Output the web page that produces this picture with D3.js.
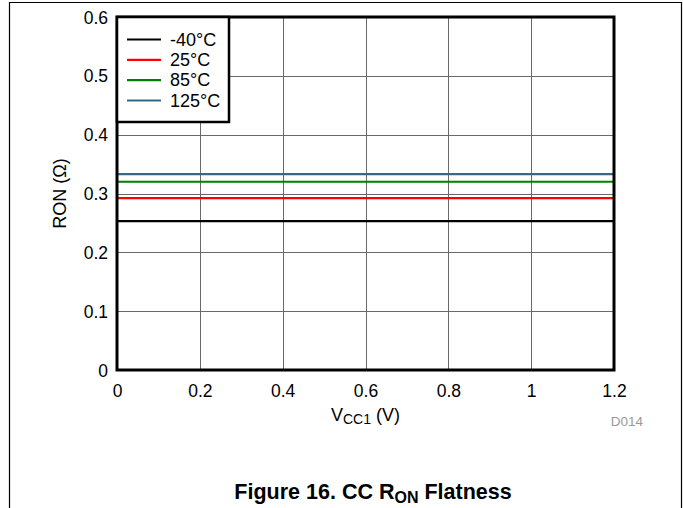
<!DOCTYPE html>
<html>
<head>
<meta charset="utf-8" />
<title>CC RON Flatness</title>
<style>
html, body {
  margin: 0;
  padding: 0;
  background: #fff;
}
svg text {
  font-family: "Liberation Sans", Arial, sans-serif;
}
</style>
</head>
<body>
<script src="https://d3js.org/d3.v7.min.js"></script>
<script>

// ---------------------------------------------------------
// Data

const vcc = [0, 0.2, 0.4, 0.6, 0.8, 1.0, 1.2]
const ronM40 = [0.253, 0.253, 0.253, 0.253, 0.253, 0.253, 0.253]
const ron25 = [0.292, 0.292, 0.292, 0.292, 0.292, 0.292, 0.292]
const ron85 = [0.320, 0.320, 0.320, 0.320, 0.320, 0.320, 0.320]
const ron125 = [0.333, 0.333, 0.333, 0.333, 0.333, 0.333, 0.333]
const seriesNames = ['-40°C', '25°C', '85°C', '125°C']
const seriesColors = ['#000000', '#ff0000', '#008000', '#3a6783']
const xTicks = [0, 0.2, 0.4, 0.6, 0.8, 1, 1.2]
const yTicks = [0, 0.1, 0.2, 0.3, 0.4, 0.5, 0.6]

const series = [ronM40, ron25, ron85, ron125]

// ---------------------------------------------------------
// Layout

const W = 683
const H = 508
const margin = { left: 117, top: 17, right: 683 - 614, bottom: 508 - 370 }
const w = W - margin.left - margin.right
const h = H - margin.top - margin.bottom

const svg = d3.select('body').append('svg')
  .attr('width', W)
  .attr('height', H)

// page frame (top, left, right)
svg.append('path')
  .attr('d', `M9.5,${H} V2.5 H681.5 V${H}`)
  .attr('fill', 'none')
  .attr('stroke', '#000')
  .attr('stroke-width', 1.2)

const g = svg.append('g')
  .attr('transform', `translate(${margin.left},${margin.top})`)

const x = d3.scaleLinear().domain([0, 1.2]).range([0, w])
const y = d3.scaleLinear().domain([0, 0.6]).range([h, 0])

// grid
g.append('g')
  .selectAll('line.gx')
  .data(xTicks)
  .enter().append('line')
  .attr('x1', d => Math.round(x(d)) + 0.5).attr('x2', d => Math.round(x(d)) + 0.5)
  .attr('y1', 0).attr('y2', h)
  .attr('stroke', '#6a6a6a')
  .attr('stroke-width', 1)

g.append('g')
  .selectAll('line.gy')
  .data(yTicks)
  .enter().append('line')
  .attr('y1', d => Math.round(y(d)) + 0.5).attr('y2', d => Math.round(y(d)) + 0.5)
  .attr('x1', 0).attr('x2', w)
  .attr('stroke', '#6a6a6a')
  .attr('stroke-width', 1)

// axes (labels only)
const xAxis = g.append('g')
  .attr('transform', `translate(0,${h})`)
  .call(d3.axisBottom(x).tickValues(xTicks).tickSize(0).tickPadding(15)
    .tickFormat(d => d3.format('')(d)))
xAxis.select('.domain').remove()
xAxis.selectAll('text')
  .attr('font-size', 17.5)
  .attr('fill', '#000')
  .attr('dy', '0.71em')

const yAxis = g.append('g')
  .call(d3.axisLeft(y).tickValues(yTicks).tickSize(0).tickPadding(9)
    .tickFormat(d => d3.format('')(d)))
yAxis.select('.domain').remove()
yAxis.selectAll('text')
  .attr('font-size', 17.5)
  .attr('fill', '#000')
  .attr('dy', '0.35em')

// lines
const line = d3.line()
  .x((d, i) => x(vcc[i]))
  .y(d => y(d))

g.selectAll('path.series')
  .data(series)
  .enter().append('path')
  .attr('class', 'series')
  .attr('d', d => line(d))
  .attr('fill', 'none')
  .attr('stroke', (d, i) => seriesColors[i])
  .attr('stroke-width', 2.2)

// plot border
g.append('rect')
  .attr('x', 0).attr('y', 0)
  .attr('width', w).attr('height', h)
  .attr('fill', 'none')
  .attr('stroke', '#000')
  .attr('stroke-width', 3)

// legend
const legend = g.append('g')
legend.append('rect')
  .attr('x', 0).attr('y', 0)
  .attr('width', 112).attr('height', 105)
  .attr('fill', '#fff')
  .attr('stroke', '#000')
  .attr('stroke-width', 2.5)

const rowY = d3.scaleLinear().domain([0, 3]).range([22.5, 83.5])
seriesNames.forEach((name, i) => {
  legend.append('line')
    .attr('x1', 10).attr('x2', 44)
    .attr('y1', rowY(i)).attr('y2', rowY(i))
    .attr('stroke', seriesColors[i])
    .attr('stroke-width', 2.2)
  legend.append('text')
    .attr('x', 53).attr('y', rowY(i))
    .attr('dy', '0.35em')
    .attr('font-size', 18)
    .text(name)
})

// axis titles
svg.append('text')
  .attr('transform', `translate(66,${margin.top + h / 2}) rotate(-90)`)
  .attr('text-anchor', 'middle')
  .attr('font-size', 18)
  .text('RON (Ω)')

const xt = svg.append('text')
  .attr('x', margin.left + w / 2)
  .attr('y', 421)
  .attr('text-anchor', 'middle')
  .attr('font-size', 18)
xt.append('tspan').text('V')
xt.append('tspan').attr('font-size', 14).attr('dy', 3).text('CC1')
xt.append('tspan').attr('dy', -3).text(' (V)')

svg.append('text')
  .attr('x', 627)
  .attr('y', 426)
  .attr('text-anchor', 'middle')
  .attr('font-size', 13.5)
  .attr('fill', '#999')
  .text('D014')

// figure caption
const cap = svg.append('text')
  .attr('x', 373)
  .attr('y', 499)
  .attr('text-anchor', 'middle')
  .attr('font-size', 21.5)
  .attr('font-weight', 'bold')
cap.append('tspan').text('Figure 16. CC R')
cap.append('tspan').attr('font-size', 16).attr('dy', 4).text('ON')
cap.append('tspan').attr('dy', -4).text(' Flatness')

</script>
</body>
</html>
